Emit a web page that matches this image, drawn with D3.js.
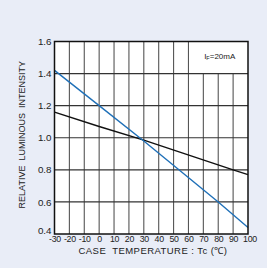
<!DOCTYPE html>
<html>
<head>
<meta charset="utf-8">
<script src="https://cdn.jsdelivr.net/npm/d3@7"></script>
<style>
  body { margin: 0; background: #e9edf7; }
  svg { display: block; font-family: "Liberation Sans", Arial, sans-serif; }
</style>
</head>
<body>
<svg width="267" height="268"></svg>
<script>
var xTicks = [-30, -20, -10, 0, 10, 20, 30, 40, 50, 60, 70, 80, 90, 100];
var yTicks = [0.4, 0.6, 0.8, 1.0, 1.2, 1.4, 1.6];
var tempBlue = [-30, 0, 30, 80, 100];
var valBlue = [1.42, 1.2, 0.98, 0.6, 0.44];
var tempBlack = [-30, 0, 30, 90, 100];
var valBlack = [1.16, 1.07, 0.985, 0.8, 0.77];

var margin = {top: 41.5, right: 19, bottom: 34, left: 54.5},
    width = 267 - margin.left - margin.right,
    height = 268 - margin.top - margin.bottom;

var svg = d3.select("svg");
var g = svg.append("g").attr("transform", "translate(" + margin.left + "," + margin.top + ")");

var x = d3.scaleLinear().domain([-30, 100]).range([0, width]);
var y = d3.scaleLinear().domain([0.4, 1.6]).range([height, 0]);

g.append("rect").attr("width", width).attr("height", height).attr("fill", "#fff");

// vertical grid: 70..90 stop at 1.4 (legend box)
g.selectAll(".vgrid")
    .data(xTicks.slice(1, -1))
    .enter().append("line")
    .attr("x1", function(d) { return x(d); })
    .attr("x2", function(d) { return x(d); })
    .attr("y1", function(d) { return d > 60 ? y(1.4) : 0; })
    .attr("y2", height)
    .attr("stroke", "#555")
    .attr("stroke-width", 1.1);

g.selectAll(".hgrid")
    .data(yTicks.slice(1, -1))
    .enter().append("line")
    .attr("x1", 0).attr("x2", width)
    .attr("y1", function(d) { return y(d); })
    .attr("y2", function(d) { return y(d); })
    .attr("stroke", "#333")
    .attr("stroke-width", 1.1);

var line = d3.line()
    .x(function(d) { return x(d[0]); })
    .y(function(d) { return y(d[1]); });

g.append("path")
    .datum(d3.zip(tempBlack, valBlack))
    .attr("fill", "none").attr("stroke", "#111").attr("stroke-width", 1.4)
    .attr("d", line);

g.append("path")
    .datum(d3.zip(tempBlue, valBlue))
    .attr("fill", "none").attr("stroke", "#1f70b8").attr("stroke-width", 1.4)
    .attr("d", line);

g.append("rect").attr("width", width).attr("height", height)
    .attr("fill", "none").attr("stroke", "#111").attr("stroke-width", 1.5);

var yAxis = d3.axisLeft(y).tickValues(yTicks).tickFormat(d3.format(".1f")).tickSize(0).tickPadding(3);
var gY = g.append("g").call(yAxis);
gY.select(".domain").remove();
gY.selectAll("text").attr("font-size", 9.8).attr("fill", "#222").attr("font-family", "Liberation Sans, Arial, sans-serif");
// bottom label sits a little higher, clear of the x labels
gY.selectAll("text").filter(function(d) { return d === 0.4; }).attr("dy", "-0.05em");

var xAxis = d3.axisBottom(x).tickValues(xTicks).tickSize(0).tickPadding(2)
    .tickFormat(function(d) { return String(d); });
var gX = g.append("g").attr("transform", "translate(0," + height + ")").call(xAxis);
gX.select(".domain").remove();
gX.selectAll("text").attr("font-size", 8.8).attr("fill", "#222").attr("font-family", "Liberation Sans, Arial, sans-serif")
    .attr("letter-spacing", -0.3);
gX.selectAll("text").filter(function(d) { return d === 100; }).attr("dx", 1.5);

svg.append("text")
    .attr("x", 153).attr("y", 253.8)
    .attr("text-anchor", "middle").attr("font-size", 9.5).attr("fill", "#222")
    .attr("letter-spacing", 0.45)
    .attr("xml:space", "preserve")
    .text("CASE  TEMPERATURE : Tc (℃)");

svg.append("text")
    .attr("transform", "translate(24.5," + (margin.top + height / 2 - 3) + ") rotate(-90)")
    .attr("text-anchor", "middle").attr("font-size", 9).attr("fill", "#222")
    .attr("xml:space", "preserve")
    .text("RELATIVE  LUMINOUS  INTENSITY");

var lg = g.append("text")
    .attr("x", x(81)).attr("y", y(1.5) + 1)
    .attr("text-anchor", "middle").attr("font-size", 8).attr("fill", "#222");
lg.append("tspan").text("I");
lg.append("tspan").attr("font-size", 5.5).attr("dy", 1).text("F");
lg.append("tspan").attr("dy", -1).text("=20mA");
</script>
</body>
</html>
